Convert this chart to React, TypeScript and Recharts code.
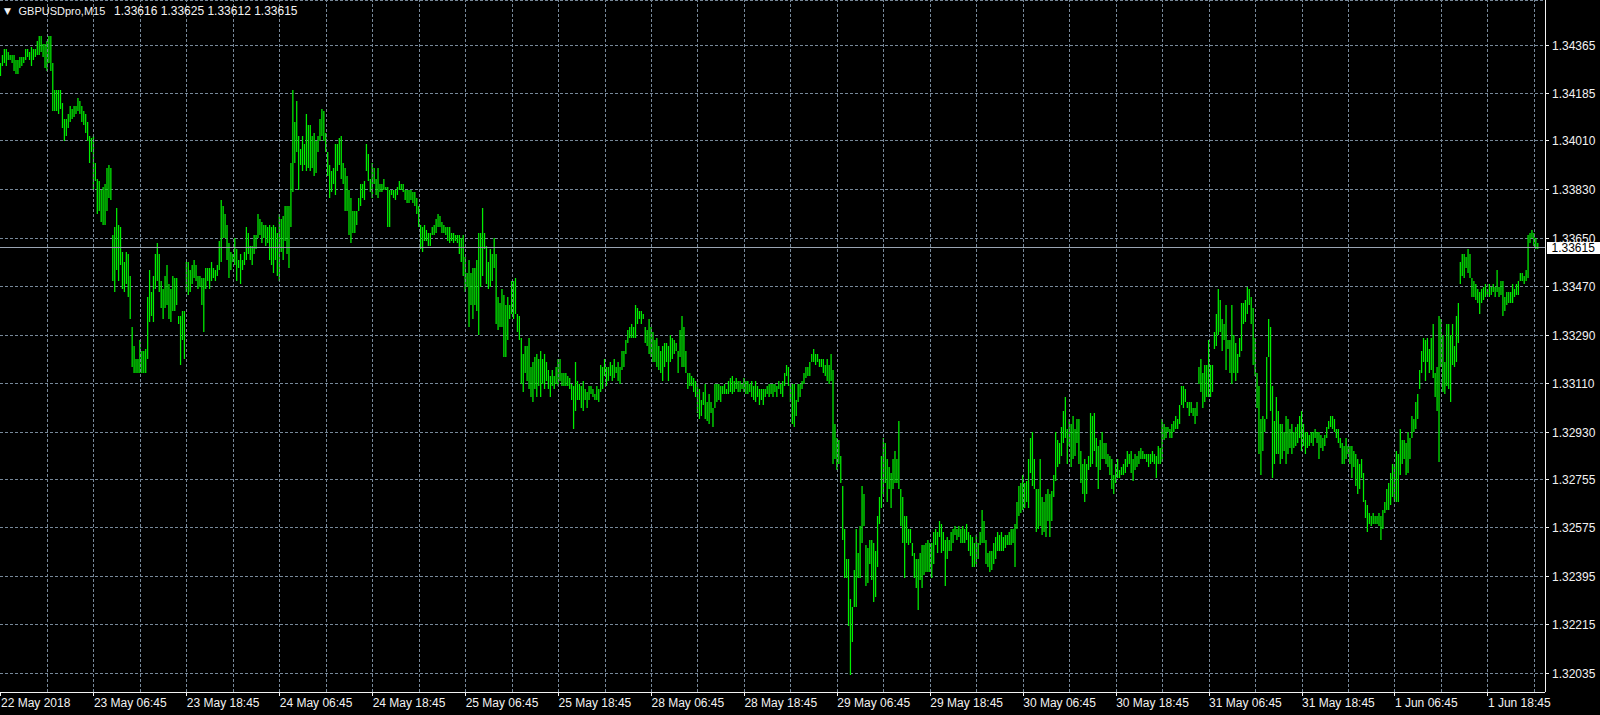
import React from "react";
import { ComposedChart, Bar, XAxis, YAxis, CartesianGrid, ReferenceLine } from "recharts";

// GBPUSDpro M15 bar chart, MetaTrader "green on black" look

const symbol = "GBPUSDpro,M15";
const lastBarQuote = ["1.33616", "1.33625", "1.33612", "1.33615"]; // O H L C
const bidPrice = 1.33615;

const priceLabels = [
  "1.34365", "1.34185", "1.34010", "1.33830", "1.33650", "1.33470", "1.33290",
  "1.33110", "1.32930", "1.32755", "1.32575", "1.32395", "1.32215", "1.32035",
];
const priceDomain = [1.31966, 1.34533];

const timeLabels = [
  "22 May 2018", "23 May 06:45", "23 May 18:45", "24 May 06:45", "24 May 18:45",
  "25 May 06:45", "25 May 18:45", "28 May 06:45", "28 May 18:45", "29 May 06:45",
  "29 May 18:45", "30 May 06:45", "30 May 18:45", "31 May 06:45", "31 May 18:45",
  "1 Jun 06:45", "1 Jun 18:45",
];
const timeLabelBars = [0, 48, 96, 144, 192, 240, 288, 336, 384, 432, 480, 528, 576, 624, 672, 720, 768];
const gridBars = [
  24, 48, 72, 96, 120, 144, 168, 192, 216, 240, 264, 288, 312, 336, 360, 384, 408,
  432, 456, 480, 504, 528, 552, 576, 600, 624, 648, 672, 696, 720, 744, 768, 792,
];
const emptySlots = 3; // chart shift on the right

// bar highs, 24 bars (6 hours) per row
const highs = [
  1.3430,1.3433,1.3435,1.3435,1.3434,1.3433,1.3433,1.3433,1.3431,1.3431,1.3432,1.3432,1.3432,1.3435,1.3435,1.3434,1.3436,1.3435,1.3435,1.3438,1.3440,1.3440,1.3437,1.3437,
  1.3438,1.3440,1.3440,1.3430,1.3420,1.3420,1.3420,1.3420,1.3415,1.3409,1.3409,1.3411,1.3414,1.3413,1.3414,1.3414,1.3417,1.3416,1.3414,1.3412,1.3411,1.3408,1.3403,1.3402,
  1.3403,1.3393,1.3387,1.3386,1.3383,1.3384,1.3385,1.3391,1.3392,1.3391,1.3366,1.3369,1.3376,1.3370,1.3369,1.3360,1.3356,1.3360,1.3359,1.3351,1.3332,1.3325,1.3320,1.3320,
  1.3327,1.3323,1.3323,1.3324,1.3343,1.3353,1.3345,1.3351,1.3359,1.3363,1.3359,1.3349,1.3346,1.3351,1.3355,1.3348,1.3346,1.3351,1.3350,1.3350,1.3336,1.3336,1.3338,1.3338,
  1.3356,1.3356,1.3353,1.3355,1.3357,1.3355,1.3351,1.3351,1.3350,1.3350,1.3354,1.3354,1.3354,1.3356,1.3354,1.3353,1.3355,1.3364,1.3379,1.3377,1.3374,1.3370,1.3363,1.3360,
  1.3359,1.3365,1.3361,1.3357,1.3359,1.3357,1.3360,1.3369,1.3367,1.3362,1.3362,1.3366,1.3366,1.3374,1.3372,1.3371,1.3370,1.3370,1.3369,1.3370,1.3369,1.3370,1.3369,1.3367,
  1.3374,1.3372,1.3373,1.3377,1.3377,1.3377,1.3393,1.3420,1.3408,1.3416,1.3403,1.3398,1.3403,1.3400,1.3411,1.3407,1.3407,1.3403,1.3404,1.3401,1.3403,1.3409,1.3413,1.3412,
  1.3404,1.3397,1.3392,1.3390,1.3391,1.3400,1.3400,1.3402,1.3403,1.3393,1.3391,1.3388,1.3383,1.3380,1.3375,1.3375,1.3375,1.3380,1.3385,1.3385,1.3386,1.3400,1.3396,1.3387,
  1.3393,1.3391,1.3387,1.3391,1.3385,1.3385,1.3387,1.3384,1.3384,1.3383,1.3383,1.3383,1.3383,1.3384,1.3386,1.3385,1.3385,1.3383,1.3383,1.3383,1.3383,1.3382,1.3382,1.3380,
  1.3377,1.3370,1.3369,1.3370,1.3368,1.3367,1.3367,1.3369,1.3370,1.3372,1.3374,1.3373,1.3371,1.3370,1.3369,1.3369,1.3369,1.3367,1.3367,1.3366,1.3366,1.3366,1.3365,1.3366,
  1.3358,1.3352,1.3357,1.3352,1.3354,1.3354,1.3357,1.3367,1.3367,1.3376,1.3367,1.3362,1.3356,1.3361,1.3359,1.3365,1.3359,1.3343,1.3341,1.3346,1.3344,1.3340,1.3343,1.3340,
  1.3349,1.3349,1.3350,1.3337,1.3336,1.3328,1.3322,1.3325,1.3325,1.3328,1.3317,1.3319,1.3321,1.3322,1.3320,1.3323,1.3320,1.3322,1.3319,1.3316,1.3314,1.3316,1.3314,1.3317,
  1.3320,1.3320,1.3315,1.3315,1.3315,1.3314,1.3313,1.3311,1.3310,1.3319,1.3312,1.3311,1.3310,1.3312,1.3309,1.3308,1.3310,1.3310,1.3309,1.3307,1.3310,1.3309,1.3318,1.3317,
  1.3320,1.3317,1.3317,1.3319,1.3318,1.3320,1.3317,1.3319,1.3317,1.3323,1.3323,1.3327,1.3331,1.3332,1.3333,1.3332,1.3340,1.3339,1.3338,1.3338,1.3337,1.3332,1.3331,1.3335,
  1.3332,1.3330,1.3327,1.3328,1.3325,1.3323,1.3325,1.3326,1.3326,1.3325,1.3329,1.3328,1.3327,1.3326,1.3323,1.3331,1.3336,1.3332,1.3323,1.3315,1.3315,1.3314,1.3313,1.3312,
  1.3311,1.3309,1.3305,1.3308,1.3311,1.3304,1.3307,1.3304,1.3302,1.3311,1.3311,1.3311,1.3310,1.3310,1.3311,1.3309,1.3312,1.3313,1.3314,1.3312,1.3313,1.3312,1.3312,1.3311,
  1.3313,1.3312,1.3312,1.3311,1.3312,1.3310,1.3312,1.3310,1.3309,1.3309,1.3309,1.3309,1.3310,1.3311,1.3311,1.3311,1.3311,1.3310,1.3312,1.3311,1.3312,1.3315,1.3318,1.3317,
  1.3311,1.3311,1.3311,1.3305,1.3311,1.3311,1.3312,1.3315,1.3317,1.3317,1.3319,1.3322,1.3324,1.3322,1.3322,1.3320,1.3320,1.3320,1.3318,1.3320,1.3318,1.3322,1.3316,1.3296,
  1.3291,1.3290,1.3284,1.3273,1.3257,1.3246,1.3246,1.3231,1.3228,1.3242,1.3257,1.3248,1.3258,1.3273,1.3270,1.3251,1.3250,1.3253,1.3253,1.3252,1.3249,1.3262,1.3269,1.3284,
  1.3291,1.3289,1.3283,1.3280,1.3278,1.3283,1.3286,1.3283,1.3297,1.3272,1.3269,1.3262,1.3262,1.3257,1.3257,1.3252,1.3248,1.3246,1.3246,1.3248,1.3251,1.3251,1.3252,1.3253,
  1.3252,1.3252,1.3256,1.3257,1.3256,1.3260,1.3259,1.3256,1.3253,1.3254,1.3253,1.3256,1.3257,1.3258,1.3257,1.3258,1.3257,1.3258,1.3257,1.3259,1.3256,1.3255,1.3254,1.3252,
  1.3255,1.3252,1.3256,1.3264,1.3260,1.3253,1.3248,1.3249,1.3249,1.3252,1.3254,1.3256,1.3255,1.3256,1.3254,1.3255,1.3255,1.3256,1.3257,1.3257,1.3259,1.3267,1.3273,1.3274,
  1.3277,1.3274,1.3275,1.3283,1.3291,1.3293,1.3283,1.3272,1.3272,1.3283,1.3269,1.3267,1.3270,1.3272,1.3270,1.3271,1.3277,1.3293,1.3290,1.3289,1.3295,1.3301,1.3306,1.3294,
  1.3298,1.3296,1.3299,1.3294,1.3298,1.3298,1.3286,1.3281,1.3283,1.3281,1.3284,1.3300,1.3299,1.3300,1.3291,1.3288,1.3290,1.3293,1.3289,1.3289,1.3285,1.3284,1.3283,1.3277,
  1.3281,1.3283,1.3279,1.3280,1.3281,1.3283,1.3286,1.3285,1.3286,1.3283,1.3285,1.3284,1.3286,1.3287,1.3286,1.3285,1.3285,1.3285,1.3285,1.3286,1.3285,1.3284,1.3288,1.3287,
  1.3298,1.3296,1.3295,1.3295,1.3294,1.3296,1.3297,1.3299,1.3298,1.3303,1.3310,1.3310,1.3309,1.3304,1.3304,1.3304,1.3302,1.3302,1.3304,1.3317,1.3320,1.3315,1.3318,1.3318,
  1.3327,1.3318,1.3318,1.3330,1.3337,1.3346,1.3342,1.3335,1.3333,1.3340,1.3327,1.3327,1.3340,1.3329,1.3326,1.3322,1.3328,1.3341,1.3341,1.3342,1.3347,1.3346,1.3343,1.3339,
  1.3328,1.3315,1.3310,1.3298,1.3299,1.3298,1.3321,1.3335,1.3332,1.3310,1.3297,1.3306,1.3301,1.3296,1.3296,1.3293,1.3299,1.3298,1.3294,1.3296,1.3293,1.3295,1.3296,1.3299,
  1.3301,1.3296,1.3293,1.3293,1.3292,1.3293,1.3293,1.3294,1.3293,1.3293,1.3292,1.3291,1.3292,1.3295,1.3297,1.3299,1.3299,1.3298,1.3294,1.3294,1.3291,1.3289,1.3288,1.3291,
  1.3288,1.3288,1.3288,1.3286,1.3285,1.3283,1.3281,1.3283,1.3278,1.3268,1.3266,1.3263,1.3262,1.3263,1.3262,1.3262,1.3263,1.3262,1.3264,1.3267,1.3272,1.3274,1.3278,1.3281,
  1.3281,1.3286,1.3285,1.3294,1.3290,1.3290,1.3289,1.3293,1.3291,1.3299,1.3298,1.3304,1.3307,1.3316,1.3323,1.3328,1.3327,1.3328,1.3324,1.3328,1.3333,1.3315,1.3317,1.3336,
  1.3335,1.3329,1.3319,1.3333,1.3333,1.3329,1.3333,1.3325,1.3336,1.3341,1.3356,1.3359,1.3359,1.3358,1.3361,1.3359,1.3350,1.3349,1.3348,1.3346,1.3345,1.3346,1.3347,1.3348,
  1.3346,1.3348,1.3347,1.3348,1.3347,1.3353,1.3347,1.3349,1.3349,1.3343,1.3345,1.3345,1.3345,1.3348,1.3346,1.3348,1.3349,1.3352,1.3352,1.3351,1.3353,1.3366,1.3367,1.3368,1.3367,1.3365,1.3363,
];

// bar lows, same layout
const lows = [
  1.3425,1.3429,1.3430,1.3429,1.3431,1.3431,1.3430,1.3427,1.3426,1.3426,1.3428,1.3429,1.3430,1.3431,1.3432,1.3431,1.3429,1.3431,1.3432,1.3433,1.3433,1.3434,1.3432,1.3428,
  1.3427,1.3430,1.3427,1.3412,1.3412,1.3412,1.3411,1.3413,1.3406,1.3401,1.3403,1.3406,1.3408,1.3409,1.3410,1.3411,1.3412,1.3411,1.3408,1.3407,1.3404,1.3401,1.3393,1.3397,
  1.3383,1.3386,1.3374,1.3375,1.3371,1.3370,1.3370,1.3375,1.3380,1.3379,1.3349,1.3345,1.3353,1.3349,1.3355,1.3346,1.3345,1.3348,1.3343,1.3335,1.3317,1.3315,1.3315,1.3315,
  1.3315,1.3315,1.3315,1.3315,1.3320,1.3334,1.3336,1.3334,1.3346,1.3349,1.3345,1.3339,1.3335,1.3339,1.3340,1.3335,1.3334,1.3338,1.3338,1.3340,1.3333,1.3318,1.3327,1.3320,
  1.3345,1.3344,1.3345,1.3348,1.3350,1.3349,1.3346,1.3347,1.3340,1.3330,1.3346,1.3349,1.3346,1.3349,1.3350,1.3349,1.3351,1.3353,1.3356,1.3365,1.3365,1.3357,1.3350,1.3353,
  1.3356,1.3355,1.3349,1.3354,1.3348,1.3353,1.3355,1.3357,1.3359,1.3357,1.3355,1.3359,1.3361,1.3365,1.3366,1.3363,1.3365,1.3362,1.3363,1.3357,1.3355,1.3352,1.3357,1.3351,
  1.3349,1.3360,1.3357,1.3364,1.3359,1.3354,1.3369,1.3382,1.3393,1.3397,1.3383,1.3392,1.3390,1.3392,1.3390,1.3391,1.3390,1.3391,1.3388,1.3389,1.3397,1.3401,1.3403,1.3401,
  1.3397,1.3388,1.3380,1.3382,1.3385,1.3381,1.3390,1.3392,1.3387,1.3385,1.3375,1.3375,1.3366,1.3363,1.3367,1.3367,1.3370,1.3375,1.3377,1.3380,1.3379,1.3390,1.3386,1.3382,
  1.3380,1.3385,1.3381,1.3380,1.3382,1.3382,1.3383,1.3383,1.3369,1.3369,1.3381,1.3380,1.3379,1.3381,1.3383,1.3383,1.3382,1.3379,1.3378,1.3378,1.3379,1.3378,1.3377,1.3374,
  1.3369,1.3361,1.3360,1.3364,1.3364,1.3362,1.3362,1.3366,1.3366,1.3367,1.3369,1.3369,1.3367,1.3367,1.3366,1.3364,1.3363,1.3364,1.3363,1.3364,1.3363,1.3359,1.3356,1.3351,
  1.3345,1.3347,1.3332,1.3340,1.3335,1.3340,1.3338,1.3329,1.3347,1.3351,1.3361,1.3348,1.3346,1.3347,1.3349,1.3354,1.3333,1.3331,1.3332,1.3332,1.3321,1.3321,1.3327,1.3335,
  1.3337,1.3335,1.3337,1.3330,1.3327,1.3311,1.3308,1.3315,1.3312,1.3309,1.3306,1.3304,1.3309,1.3306,1.3310,1.3306,1.3311,1.3309,1.3312,1.3309,1.3306,1.3310,1.3309,1.3311,
  1.3310,1.3312,1.3310,1.3310,1.3310,1.3310,1.3309,1.3305,1.3294,1.3301,1.3305,1.3305,1.3302,1.3301,1.3305,1.3302,1.3305,1.3307,1.3306,1.3305,1.3305,1.3304,1.3308,1.3309,
  1.3314,1.3310,1.3312,1.3314,1.3312,1.3313,1.3315,1.3312,1.3311,1.3316,1.3317,1.3322,1.3326,1.3328,1.3328,1.3328,1.3328,1.3333,1.3335,1.3333,1.3335,1.3326,1.3325,1.3322,
  1.3321,1.3319,1.3319,1.3317,1.3316,1.3315,1.3312,1.3317,1.3319,1.3312,1.3319,1.3320,1.3322,1.3323,1.3315,1.3321,1.3317,1.3317,1.3315,1.3309,1.3310,1.3310,1.3308,1.3306,
  1.3300,1.3298,1.3299,1.3303,1.3298,1.3297,1.3296,1.3300,1.3295,1.3302,1.3304,1.3305,1.3304,1.3307,1.3307,1.3307,1.3307,1.3308,1.3307,1.3308,1.3309,1.3308,1.3308,1.3309,
  1.3308,1.3307,1.3307,1.3308,1.3306,1.3305,1.3304,1.3306,1.3303,1.3305,1.3303,1.3306,1.3307,1.3306,1.3307,1.3306,1.3308,1.3306,1.3309,1.3307,1.3306,1.3310,1.3314,1.3310,
  1.3304,1.3296,1.3295,1.3299,1.3304,1.3306,1.3309,1.3311,1.3313,1.3314,1.3314,1.3319,1.3319,1.3318,1.3319,1.3317,1.3317,1.3315,1.3314,1.3312,1.3311,1.3312,1.3281,1.3283,
  1.3279,1.3281,1.3274,1.3253,1.3239,1.3239,1.3221,1.3203,1.3215,1.3228,1.3228,1.3239,1.3239,1.3252,1.3258,1.3236,1.3237,1.3244,1.3238,1.3230,1.3232,1.3243,1.3259,1.3265,
  1.3270,1.3274,1.3267,1.3272,1.3265,1.3272,1.3274,1.3274,1.3272,1.3258,1.3252,1.3239,1.3252,1.3251,1.3252,1.3247,1.3239,1.3235,1.3227,1.3238,1.3235,1.3240,1.3241,1.3241,
  1.3241,1.3239,1.3244,1.3251,1.3248,1.3254,1.3248,1.3249,1.3236,1.3246,1.3249,1.3249,1.3252,1.3255,1.3253,1.3254,1.3252,1.3252,1.3252,1.3253,1.3249,1.3247,1.3243,1.3243,
  1.3244,1.3246,1.3251,1.3252,1.3252,1.3244,1.3243,1.3241,1.3242,1.3244,1.3246,1.3249,1.3249,1.3249,1.3249,1.3250,1.3251,1.3251,1.3251,1.3252,1.3243,1.3257,1.3262,1.3263,
  1.3264,1.3265,1.3267,1.3265,1.3278,1.3273,1.3272,1.3256,1.3257,1.3258,1.3255,1.3256,1.3254,1.3260,1.3254,1.3260,1.3269,1.3275,1.3280,1.3281,1.3284,1.3289,1.3291,1.3281,
  1.3288,1.3280,1.3283,1.3284,1.3289,1.3281,1.3274,1.3270,1.3267,1.3270,1.3279,1.3280,1.3281,1.3286,1.3280,1.3272,1.3279,1.3283,1.3283,1.3281,1.3280,1.3277,1.3272,1.3270,
  1.3274,1.3276,1.3276,1.3277,1.3277,1.3278,1.3280,1.3281,1.3278,1.3275,1.3279,1.3280,1.3281,1.3283,1.3283,1.3283,1.3282,1.3280,1.3281,1.3282,1.3281,1.3276,1.3281,1.3281,
  1.3282,1.3290,1.3291,1.3293,1.3291,1.3291,1.3293,1.3294,1.3294,1.3296,1.3303,1.3302,1.3304,1.3302,1.3299,1.3300,1.3299,1.3296,1.3299,1.3311,1.3308,1.3302,1.3304,1.3306,
  1.3306,1.3306,1.3308,1.3324,1.3325,1.3329,1.3330,1.3323,1.3327,1.3316,1.3324,1.3315,1.3311,1.3315,1.3312,1.3315,1.3321,1.3323,1.3333,1.3334,1.3337,1.3340,1.3333,1.3318,
  1.3314,1.3302,1.3285,1.3277,1.3286,1.3293,1.3298,1.3321,1.3301,1.3276,1.3281,1.3285,1.3285,1.3281,1.3283,1.3286,1.3281,1.3285,1.3287,1.3285,1.3287,1.3288,1.3289,1.3291,
  1.3286,1.3288,1.3285,1.3287,1.3288,1.3289,1.3288,1.3291,1.3289,1.3283,1.3287,1.3286,1.3288,1.3291,1.3294,1.3295,1.3294,1.3293,1.3291,1.3289,1.3287,1.3281,1.3281,1.3283,
  1.3285,1.3281,1.3276,1.3280,1.3273,1.3270,1.3272,1.3276,1.3267,1.3261,1.3256,1.3259,1.3258,1.3259,1.3259,1.3259,1.3258,1.3253,1.3257,1.3263,1.3264,1.3264,1.3266,1.3269,
  1.3267,1.3267,1.3267,1.3277,1.3281,1.3283,1.3277,1.3278,1.3283,1.3291,1.3293,1.3294,1.3298,1.3309,1.3315,1.3319,1.3312,1.3319,1.3315,1.3316,1.3313,1.3306,1.3301,1.3282,
  1.3317,1.3308,1.3307,1.3310,1.3309,1.3304,1.3318,1.3317,1.3319,1.3326,1.3348,1.3351,1.3350,1.3354,1.3352,1.3350,1.3343,1.3343,1.3342,1.3341,1.3337,1.3341,1.3342,1.3343,
  1.3344,1.3343,1.3344,1.3345,1.3343,1.3345,1.3343,1.3344,1.3336,1.3338,1.3340,1.3341,1.3341,1.3341,1.3343,1.3344,1.3344,1.3349,1.3349,1.3348,1.3349,1.3350,1.3363,1.3365,1.3362,1.3361,1.3361,
];

const BG = "#000000";
const GRID = "#778899";
const FG = "#F2F2F2";
const BAR = "#00EE00";
const BID_LINE = "#9AA4B2";
const FONT = "'Liberation Sans', Arial, sans-serif";

const barCount = Math.min(highs.length, lows.length);
const rows = Array.from({ length: barCount + emptySlots }, (_, i) => ({
  i,
  range: i < barCount ? [lows[i], highs[i]] : null,
}));

const labelByBar: Record<number, string> = {};
timeLabelBars.forEach((b, k) => (labelByBar[b] = timeLabels[k]));

// one vertical high-low line per bar; left soft so neighbours blend like the scaled screenshot
function HighLowBar(props: any) {
  const { x, y, width, height } = props;
  if (![x, y, width, height].every((v) => typeof v === "number" && isFinite(v))) return null;
  const top = Math.round(Math.min(y, y + height));
  const bottom = Math.round(Math.max(y, y + height));
  const w = 1.25;
  return (
    <rect
      x={x + width / 2 - w / 2}
      y={top}
      width={w}
      height={Math.max(bottom - top, 1)}
      fill={BAR}
      shapeRendering="geometricPrecision"
    />
  );
}

function TimeTick(props: any) {
  const { x, y, payload } = props;
  return (
    <text x={x} y={y + 11} fill={FG} fontSize={12} fontFamily={FONT} textAnchor="start">
      {labelByBar[payload.value]}
    </text>
  );
}

function PriceTick(props: any) {
  const { x, y, payload } = props;
  const label = priceLabels.find((p) => Number(p) === payload.value) ?? String(payload.value);
  return (
    <text x={x + 1} y={y + 4.5} fill={FG} fontSize={12} fontFamily={FONT} textAnchor="start">
      {label}
    </text>
  );
}

function BidTag(props: any) {
  const vb = props.viewBox || {};
  const x = (vb.x ?? 0) + (vb.width ?? 0) + 1.5;
  const y = vb.y ?? 0;
  return (
    <g>
      <rect x={x} y={y - 5} width={56} height={12} fill="#FFFFFF" />
      <text x={x + 5} y={y + 5} fill="#000000" fontSize={12} fontFamily={FONT}>
        {lastBarQuote[3]}
      </text>
    </g>
  );
}

export default function App() {
  return (
    <div style={{ position: "absolute", left: 0, top: 0, width: 1600, height: 715, background: BG, shapeRendering: "crispEdges" }}>
      <ComposedChart
        width={1600}
        height={715}
        data={rows}
        margin={{ top: 0, right: 0, bottom: 0, left: 0 }}
        barCategoryGap={0}
        barGap={0}
      >
        <CartesianGrid horizontal vertical={false} stroke={GRID} strokeDasharray="3 2" />
        {gridBars.map((b) => (
          <ReferenceLine key={b} x={b} stroke={GRID} strokeDasharray="3 2" />
        ))}
        <XAxis
          dataKey="i"
          type="category"
          ticks={timeLabelBars}
          interval={0}
          height={23}
          tick={<TimeTick />}
          tickSize={4}
          tickMargin={0}
          tickLine={{ stroke: FG }}
          axisLine={{ stroke: FG }}
        />
        <YAxis
          orientation="right"
          type="number"
          domain={priceDomain}
          allowDataOverflow
          ticks={priceLabels.map(Number)}
          interval={0}
          width={55}
          tick={<PriceTick />}
          tickSize={4}
          tickMargin={2}
          tickLine={{ stroke: FG }}
          axisLine={{ stroke: FG }}
        />
        <Bar dataKey="range" barSize={1} isAnimationActive={false} shape={<HighLowBar />} />
        <ReferenceLine y={bidPrice} stroke={BID_LINE} label={<BidTag />} />
      </ComposedChart>
      <svg width={400} height={20} style={{ position: "absolute", left: 0, top: 0 }}>
        <text x={4} y={14} fill={FG} fontSize={9} fontFamily="'DejaVu Sans', sans-serif">▼</text>
        <text x={18.5} y={15} fill={FG} fontSize={11} fontFamily={FONT}>{symbol}</text>
        <text x={114} y={15} fill={FG} fontSize={12} fontFamily={FONT}>{lastBarQuote.join(" ")}</text>
      </svg>
    </div>
  );
}
